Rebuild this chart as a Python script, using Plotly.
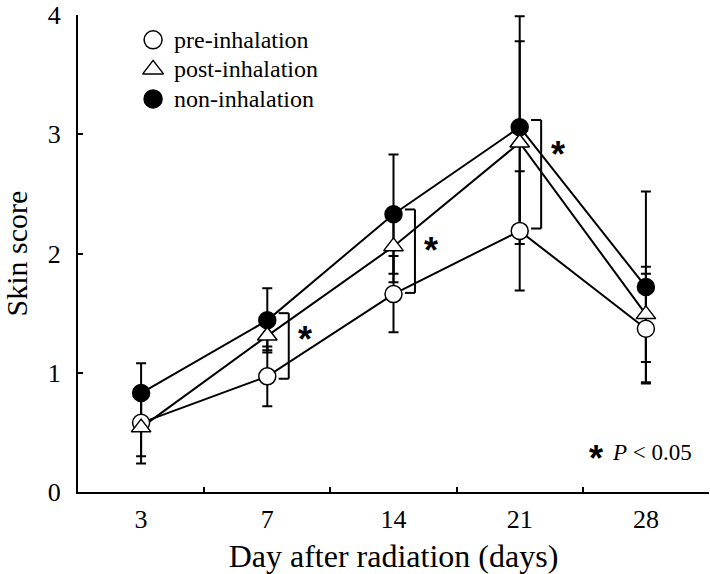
import plotly.graph_objects as go

days = ['3', '7', '14', '21', '28']

pre_mean = [0.58, 0.97, 1.66, 2.19, 1.37]
pre_err = [0.28, 0.25, 0.32, 0.50, 0.46]
post_mean = [0.54, 1.31, 2.06, 2.93, 1.49]
post_err = [0.30, 0.12, 0.30, 0.85, 0.40]
non_mean = [0.83, 1.44, 2.33, 3.06, 1.72]
non_err = [0.25, 0.27, 0.50, 0.93, 0.80]

# significance brackets: day index, top, bottom, asterisk height
sig_idx = [1, 2, 3]
sig_top = [1.50, 2.37, 3.12]
sig_bot = [0.95, 1.67, 2.21]
sig_star = [1.33, 2.08, 2.88]

legend_names = ['pre-inhalation', 'post-inhalation', 'non-inhalation']

serif = '"Times New Roman", "Liberation Serif", serif'
sans = '"Liberation Sans", Arial, sans-serif'
series = [
  ('non-inhalation', non_mean, non_err, 'circle', 'black'),
  ('pre-inhalation', pre_mean, pre_err, 'circle', 'white'),
  ('post-inhalation', post_mean, post_err, 'triangle-up', 'white'),
]
style = {s[0]: (s[3], s[4]) for s in series}

fig = go.Figure()

# lines + error bars first so markers sit on top
for name, m, e, sym, fill in series:
  fig.add_trace(go.Scatter(
    x=days, y=m, mode='lines', showlegend=False, hoverinfo='skip',
    line=dict(color='black', width=2),
    error_y=dict(type='data', array=e, visible=True, color='black', thickness=2, width=5),
  ))

for name, m, e, sym, fill in series:
  fig.add_trace(go.Scatter(
    x=days, y=m, mode='markers', showlegend=False, name=name,
    marker=dict(symbol=sym, size=17, color=fill, line=dict(color='black', width=1.5)),
  ))

# hand-made legend on a hidden 0..1 overlay axis
leg_y = [0.948, 0.886, 0.824]
for name, ly in zip(legend_names, leg_y):
  sym, fill = style[name]
  fig.add_trace(go.Scatter(
    x=[0.119], y=[ly], xaxis='x2', yaxis='y2', mode='markers', showlegend=False,
    hoverinfo='skip',
    marker=dict(symbol=sym, size=18, color=fill, line=dict(color='black', width=1.5)),
  ))
  fig.add_annotation(xref='x2', yref='y2', x=0.149, y=ly, text=name, showarrow=False,
                     xanchor='left', yanchor='middle',
                     font=dict(family=serif, size=24, color='black'))

for i, t, b, s in zip(sig_idx, sig_top, sig_bot, sig_star):
  x0, x1 = i + 0.09, i + 0.17
  for xa, ya, xb, yb in [(x0, t, x1, t), (x1, t, x1, b), (x1, b, x0, b)]:
    fig.add_shape(type='line', xref='x', yref='y', x0=xa, y0=ya, x1=xb, y1=yb,
                  line=dict(color='black', width=2))
  fig.add_annotation(x=i + 0.30, y=s, text='<b>*</b>', showarrow=False,
                     xanchor='center', yanchor='middle', yshift=-6,
                     font=dict(family=sans, size=36, color='black'))

# "* P < 0.05" note
fig.add_annotation(xref='paper', yref='paper', x=0.821, y=0.083, text='<b>*</b>',
                   showarrow=False, xanchor='center', yanchor='middle', yshift=-6,
                   font=dict(family=sans, size=36, color='black'))
fig.add_annotation(xref='paper', yref='paper', x=0.976, y=0.083, xanchor='right',
                   yanchor='middle', showarrow=False, text='<i>P</i> &lt; 0.05',
                   font=dict(family=serif, size=23, color='black'))

fig.update_layout(
  width=710, height=574,
  margin=dict(l=78, r=1, t=8, b=82),
  plot_bgcolor='white', paper_bgcolor='white',
  font=dict(family=serif, size=26, color='black'),
  showlegend=False,
  xaxis=dict(
    type='category', range=[-0.5, 4.5], tickson='boundaries',
    ticks='inside', ticklen=5, tickwidth=2, tickcolor='black', ticklabelstandoff=3,
    showline=True, linecolor='black', linewidth=2, showgrid=False, zeroline=False,
    title=dict(text='Day after radiation (days)', font=dict(size=32, color='black'), standoff=12),
  ),
  yaxis=dict(
    range=[0, 4.001], tickvals=[0, 1, 2, 3, 4], ticklabeloverflow='allow',
    ticks='inside', ticklen=5, tickwidth=2, tickcolor='black', ticklabelstandoff=10,
    showline=True, linecolor='black', linewidth=2, showgrid=False, zeroline=False,
    title=dict(text='Skin score', font=dict(size=30, color='black'), standoff=13),
  ),
  xaxis2=dict(overlaying='x', range=[0, 1], anchor='y2', visible=False, fixedrange=True),
  yaxis2=dict(overlaying='y', range=[0, 1], anchor='x2', visible=False, fixedrange=True),
)

fig.write_html('out.html', config={'displayModeBar': False},
               post_script="document.body.style.margin='0px';")
